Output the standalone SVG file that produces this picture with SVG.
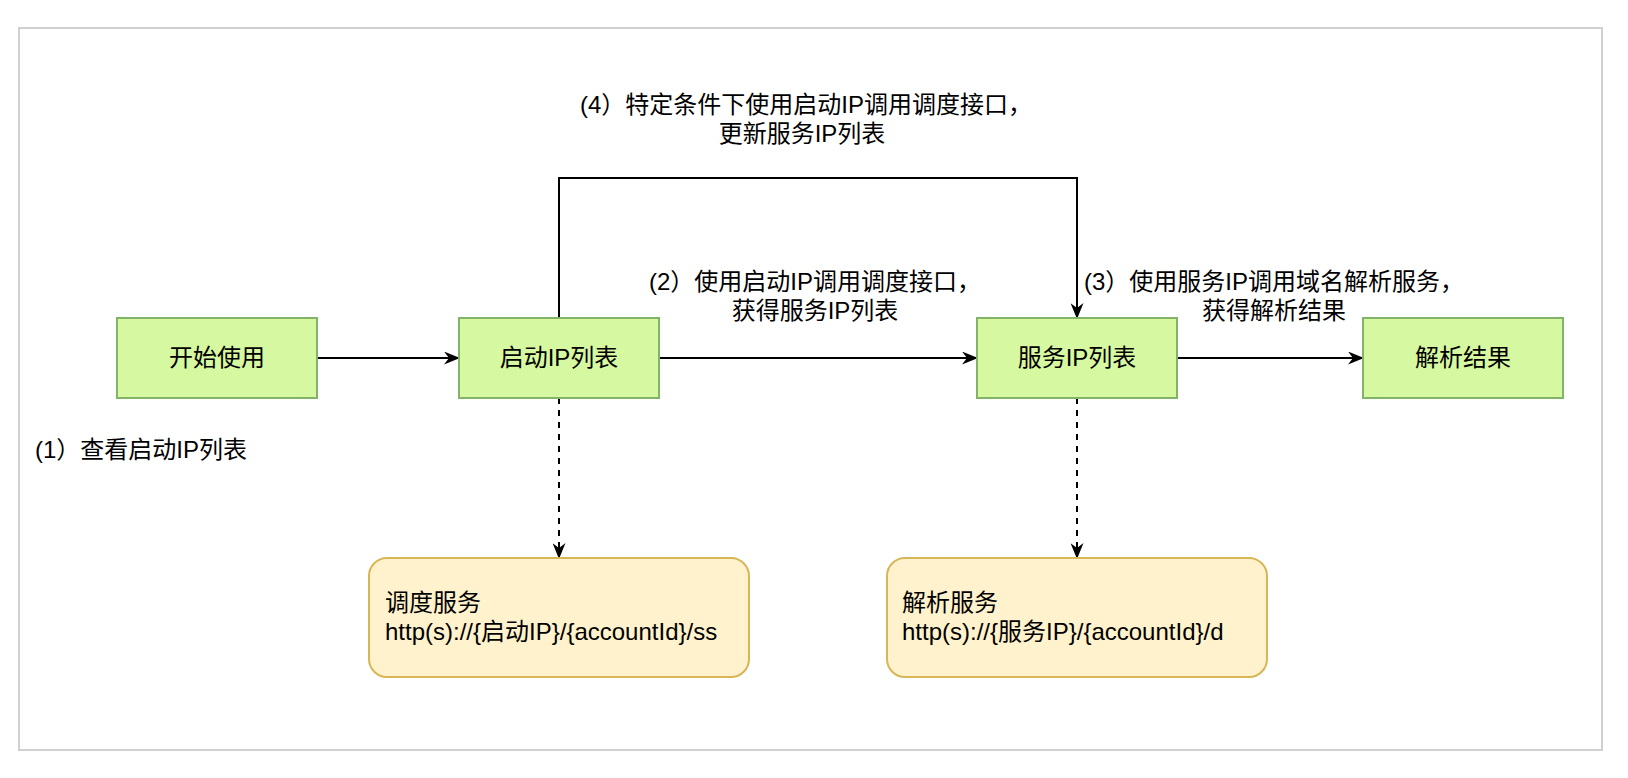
<svg xmlns="http://www.w3.org/2000/svg" width="1628" height="778" viewBox="0 0 1628 778">
  <style>
    text { font-family: "Liberation Sans", "Noto Sans CJK SC", sans-serif; font-size: 24px; fill: #000; }
    .mid { text-anchor: middle; }
    .green { fill: #d6f8a1; stroke: #82b366; stroke-width: 2; }
    .yellow { fill: #fff2cc; stroke: #d6b656; stroke-width: 2; }
    .edge { fill: none; stroke: #000; stroke-width: 2; }
    .dash { stroke-dasharray: 6 6; }
  </style>
  <defs>
    <marker id="arrow" viewBox="0 0 16 13" refX="15" refY="6.5" markerWidth="16" markerHeight="13" markerUnits="userSpaceOnUse" orient="auto">
      <path d="M0,0 L16,6.5 L0,13 L5,6.5 z" fill="#000"/>
    </marker>
  </defs>
  <rect x="0" y="0" width="1628" height="778" fill="#ffffff"/>
  <rect id="frame" x="19" y="28" width="1583" height="722" fill="#ffffff" stroke="#d0d0d0" stroke-width="2"/>

  <g id="connectors">
    <line class="edge" x1="317" y1="358" x2="459" y2="358" marker-end="url(#arrow)"/>
    <line class="edge" x1="659" y1="358" x2="977" y2="358" marker-end="url(#arrow)"/>
    <line class="edge" x1="1177" y1="358" x2="1363" y2="358" marker-end="url(#arrow)"/>
    <polyline class="edge" points="559,318 559,178 1077,178 1077,318" marker-end="url(#arrow)"/>
    <line class="edge dash" x1="559" y1="398" x2="559" y2="558" marker-end="url(#arrow)"/>
    <line class="edge dash" x1="1077" y1="398" x2="1077" y2="558" marker-end="url(#arrow)"/>
    <text class="mid" x="806" y="113">(4）特定条件下使用启动IP调用调度接口，</text>
    <text class="mid" x="802" y="142">更新服务IP列表</text>
    <text class="mid" x="815" y="290">(2）使用启动IP调用调度接口，</text>
    <text class="mid" x="815" y="319">获得服务IP列表</text>
    <text class="mid" x="1274" y="290">(3）使用服务IP调用域名解析服务，</text>
    <text class="mid" x="1274" y="319">获得解析结果</text>
  </g>

  <g id="node-start">
    <rect class="green" x="117" y="318" width="200" height="80"/>
    <text class="mid" x="217" y="366">开始使用</text>
  </g>
  <g id="node-boot-ip">
    <rect class="green" x="459" y="318" width="200" height="80"/>
    <text class="mid" x="559" y="366">启动IP列表</text>
  </g>
  <g id="node-service-ip">
    <rect class="green" x="977" y="318" width="200" height="80"/>
    <text class="mid" x="1077" y="366">服务IP列表</text>
  </g>
  <g id="node-result">
    <rect class="green" x="1363" y="318" width="200" height="80"/>
    <text class="mid" x="1463" y="366">解析结果</text>
  </g>
  <g id="label-step1">
    <text x="35" y="458">(1）查看启动IP列表</text>
  </g>
  <g id="node-schedule">
    <rect class="yellow" x="369" y="558" width="380" height="119" rx="18" ry="18"/>
    <text x="385" y="611">调度服务</text>
    <text x="385" y="640">http(s)://{启动IP}/{accountId}/ss</text>
  </g>
  <g id="node-resolve">
    <rect class="yellow" x="887" y="558" width="380" height="119" rx="18" ry="18"/>
    <text x="902" y="611">解析服务</text>
    <text x="902" y="640">http(s)://{服务IP}/{accountId}/d</text>
  </g>
</svg>
